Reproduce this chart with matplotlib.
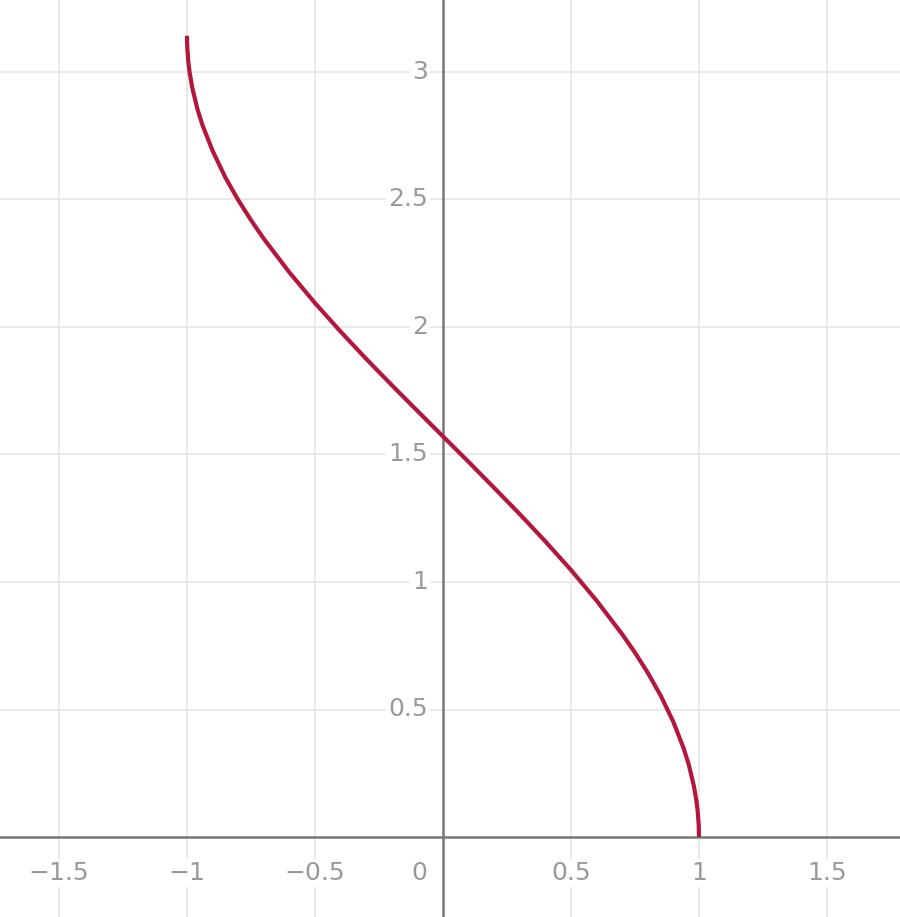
import matplotlib.pyplot as plt

# curve points
xs = [-1.0, -0.999, -0.995, -0.99, -0.98, -0.96, -0.94, -0.9, -0.85, -0.8, -0.75, -0.7,
      -0.6, -0.5, -0.4, -0.3, -0.2, -0.1, 0.0, 0.1, 0.2, 0.3, 0.4, 0.5, 0.6, 0.7,
      0.75, 0.8, 0.85, 0.9, 0.94, 0.96, 0.98, 0.99, 0.995, 0.999, 1.0]
ys = [3.142, 3.097, 3.042, 3.0, 2.941, 2.857, 2.793, 2.691, 2.586, 2.498, 2.419, 2.346,
      2.214, 2.094, 1.982, 1.875, 1.772, 1.671, 1.571, 1.471, 1.369, 1.266, 1.159, 1.047,
      0.927, 0.795, 0.723, 0.644, 0.555, 0.451, 0.348, 0.284, 0.2, 0.141, 0.1, 0.045, 0.0]

xticks = [-1.5, -1, -0.5, 0.5, 1, 1.5]
xlabels = ["\u22121.5", "\u22121", "\u22120.5", "0.5", "1", "1.5"]
yticks = [0.5, 1, 1.5, 2, 2.5, 3]
ylabels = ["0.5", "1", "1.5", "2", "2.5", "3"]

fig = plt.figure(figsize=(9, 9.17), dpi=100)
ax = fig.add_axes([0, 0, 1, 1])
ax.set_xlim(-443 / 256, 457 / 256)
ax.set_ylim(-80 / 255, 837 / 255)
ax.axis('off')

grid = '#e8e8e8'
for t in xticks:
    ax.axvline(t, color=grid, lw=1.3, zorder=0)
for t in yticks:
    ax.axhline(t, color=grid, lw=1.3, zorder=0)
ax.axhline(0, color='#777777', lw=1.8, zorder=1)
ax.axvline(0, color='#777777', lw=1.8, zorder=1)

lab = dict(color='#999999', fontsize=18, family='DejaVu Sans', zorder=2)
box = dict(facecolor='white', edgecolor='none', pad=1.5)
for t, s in zip(xticks, xlabels):
    ax.text(t, -0.14, s, ha='center', va='center', bbox=box, **lab)
for t, s in zip(yticks, ylabels):
    ax.text(-0.06, t, s, ha='right', va='center', bbox=box, **lab)
ax.text(-0.06, -0.14, "0", ha='right', va='center', bbox=box, **lab)

ax.plot(xs, ys, color='#b3173b', lw=3, solid_capstyle='butt', zorder=3)

fig.savefig('out.png', dpi=100)
